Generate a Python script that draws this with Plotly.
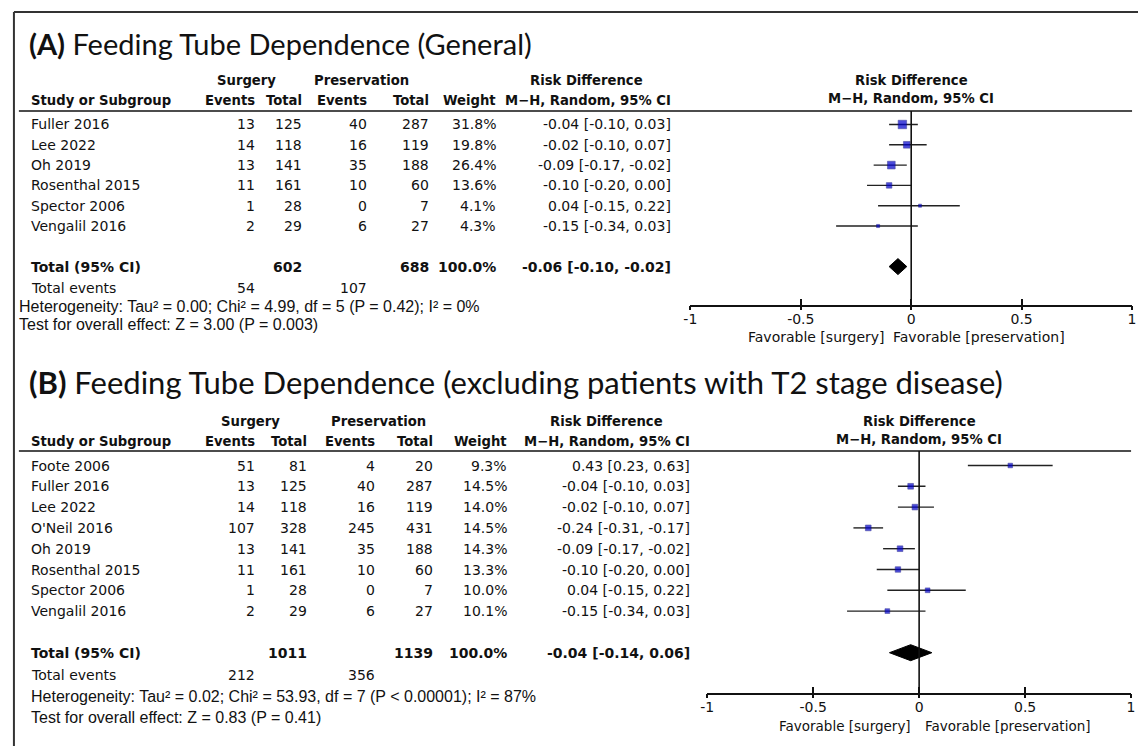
import math
import plotly.graph_objects as go

W, H = 1142, 746

# ---------------- data: panel A ----------------
studies_a = ["Fuller 2016", "Lee 2022", "Oh 2019", "Rosenthal 2015", "Spector 2006", "Vengalil 2016"]
surg_events_a = [13, 14, 13, 11, 1, 2]
surg_total_a = [125, 118, 141, 161, 28, 29]
pres_events_a = [40, 16, 35, 10, 0, 6]
pres_total_a = [287, 119, 188, 60, 7, 27]
weight_a = [31.8, 19.8, 26.4, 13.6, 4.1, 4.3]
rd_a = [-0.04, -0.02, -0.09, -0.10, 0.04, -0.15]
lo_a = [-0.10, -0.10, -0.17, -0.20, -0.15, -0.34]
hi_a = [0.03, 0.07, -0.02, 0.00, 0.22, 0.03]
total_a = {"surg_total": 602, "pres_total": 688, "weight": 100.0, "rd": -0.06, "lo": -0.10, "hi": -0.02,
           "surg_events": 54, "pres_events": 107}
het_a = "Heterogeneity: Tau² = 0.00; Chi² = 4.99, df = 5 (P = 0.42); I² = 0%"
test_a = "Test for overall effect: Z = 3.00 (P = 0.003)"
title_a = "<b>(A)</b> Feeding Tube Dependence (General)"

# ---------------- data: panel B ----------------
studies_b = ["Foote 2006", "Fuller 2016", "Lee 2022", "O'Neil 2016", "Oh 2019", "Rosenthal 2015",
             "Spector 2006", "Vengalil 2016"]
surg_events_b = [51, 13, 14, 107, 13, 11, 1, 2]
surg_total_b = [81, 125, 118, 328, 141, 161, 28, 29]
pres_events_b = [4, 40, 16, 245, 35, 10, 0, 6]
pres_total_b = [20, 287, 119, 431, 188, 60, 7, 27]
weight_b = [9.3, 14.5, 14.0, 14.5, 14.3, 13.3, 10.0, 10.1]
rd_b = [0.43, -0.04, -0.02, -0.24, -0.09, -0.10, 0.04, -0.15]
lo_b = [0.23, -0.10, -0.10, -0.31, -0.17, -0.20, -0.15, -0.34]
hi_b = [0.63, 0.03, 0.07, -0.17, -0.02, 0.00, 0.22, 0.03]
total_b = {"surg_total": 1011, "pres_total": 1139, "weight": 100.0, "rd": -0.04, "lo": -0.14, "hi": 0.06,
           "surg_events": 212, "pres_events": 356}
het_b = "Heterogeneity: Tau² = 0.02; Chi² = 53.93, df = 7 (P < 0.00001); I² = 87%"
test_b = "Test for overall effect: Z = 0.83 (P = 0.41)"
title_b = "<b>(B)</b> Feeding Tube Dependence (excluding patients with T2 stage disease)"

tick_vals = [-1, -0.5, 0, 0.5, 1]
tick_text = ["-1", "-0.5", "0", "0.5", "1"]
col_headers = ["Events", "Total", "Events", "Total", "Weight", "M−H, Random, 95% CI"]

BODY = "DejaVu Sans"
TITLE = "Lato"
FOOT = "Liberation Sans"
BLUE = "#0000cc"
INK = "#111111"
HDR = 13.2

fig = go.Figure()
annotations = []
shapes = []


def put(s, x, y, anchor="left", size=14, bold=False, family=BODY):
    if bold:
        s = "<b>" + s + "</b>"
    annotations.append(dict(text=s, x=x / W, y=1 - y / H, xref="paper", yref="paper",
                            xanchor=anchor, yanchor="middle", showarrow=False,
                            borderpad=0, borderwidth=0,
                            font=dict(family=family, size=size, color=INK)))


def ci_str(r, l, h):
    return f"{r:.2f} [{l:.2f}, {h:.2f}]"


def panel(cfg):
    L = cfg
    put(L["title"], 22, L["title_y"], size=L["title_size"], family=TITLE)
    put("Surgery", L["surg_c"], L["h1"], "center", size=HDR, bold=True)
    put("Preservation", L["pres_c"], L["h1"], "center", size=HDR, bold=True)
    put("Risk Difference", L["rdh_c"], L["h1"], "center", size=HDR, bold=True)
    put("Study or Subgroup", 24, L["h2"], size=HDR, bold=True)
    for txt, xr in zip(col_headers, L["cols"]):
        put(txt, xr, L["h2"], "right", size=HDR, bold=True)
    put("Risk Difference", L["zero_px"], L["h1"], "center", size=HDR, bold=True)
    put("M−H, Random, 95% CI", L["zero_px"], L["h2"] - 2, "center", size=HDR, bold=True)
    shapes.append(dict(type="line", xref="paper", yref="paper", x0=12 / W, x1=L["line_end"] / W,
                       y0=1 - L["hline"] / H, y1=1 - L["hline"] / H, line=dict(color=INK, width=1.5)))
    n = len(L["studies"])
    rowpx = lambda i: L["row0"] + L["dy"] * i
    for i in range(n):
        y = rowpx(i)
        vals = [L["se"][i], L["st"][i], L["pe"][i], L["pt"][i], f"{L['w'][i]:.1f}%",
                ci_str(L["rd"][i], L["lo"][i], L["hi"][i])]
        put(L["studies"][i], 24, y)
        for v, xr in zip(vals, L["cols"]):
            put(str(v), xr, y, "right")
    T = L["total"]
    yt = rowpx(n + 1)
    put("Total (95% CI)", 24, yt, bold=True)
    put(str(T["surg_total"]), L["cols"][1], yt, "right", bold=True)
    put(str(T["pres_total"]), L["cols"][3], yt, "right", bold=True)
    put(f"{T['weight']:.1f}%", L["cols"][4], yt, "right", bold=True)
    put(ci_str(T["rd"], T["lo"], T["hi"]), L["cols"][5], yt, "right", bold=True)
    put("Total events", 24, L["tev_y"])
    put(str(T["surg_events"]), L["cols"][0], L["tev_y"], "right")
    put(str(T["pres_events"]), L["cols"][2], L["tev_y"], "right")
    put(L["het"], L["foot_x"], L["het_y"], size=16, family=FOOT)
    put(L["test"], L["foot_x"], L["test_y"], size=16, family=FOOT)
    put("Favorable [surgery]", L["fav_l"], L["fav_y"], "right", size=L["fav_size"])
    put("Favorable [preservation]", L["fav_r"], L["fav_y"], "left", size=L["fav_size"])

    # ---- forest plot on real axes ----
    xa, ya = L["xa"], L["ya"]
    rows = list(range(n))
    sizes = [1.5 * math.sqrt(w) for w in L["w"]]
    fig.add_trace(go.Scatter(
        x=L["rd"], y=rows, mode="markers", xaxis=xa, yaxis=ya, showlegend=False, cliponaxis=False,
        marker=dict(symbol="square", size=sizes, color=BLUE, line=dict(width=0.6, color="#00007a")),
        error_x=dict(type="data", symmetric=False,
                     array=[h - r for h, r in zip(L["hi"], L["rd"])],
                     arrayminus=[r - l for r, l in zip(L["rd"], L["lo"])],
                     color="#222222", thickness=1.4, width=0)))
    hh = 8.0 / L["dy"]
    rt = n + 1
    fig.add_trace(go.Scatter(
        x=[T["lo"], T["rd"], T["hi"], T["rd"], T["lo"]], y=[rt, rt - hh, rt, rt + hh, rt],
        mode="lines", fill="toself", fillcolor="black", line=dict(color="black", width=1),
        xaxis=xa, yaxis=ya, showlegend=False, cliponaxis=False))
    for xo in L["xo"]:
        fig.add_trace(go.Scatter(x=[None], y=[None], xaxis=xo, yaxis=ya, showlegend=False))
    shapes.append(dict(type="line", xref=xa, yref=ya + " domain", x0=0, x1=0, y0=0, y1=1,
                       line=dict(color=INK, width=1.6)))
    top_i = (L["hline"] - L["row0"]) / L["dy"]
    bot_i = (L["axis_y"] - L["row0"]) / L["dy"]
    xk = "xaxis" + xa[1:]
    yk = "yaxis" + ya[1:]
    xo_in = "xaxis" + L["xo"][0][1:]
    xo_out = "xaxis" + L["xo"][1][1:]
    common = dict(range=[-1, 1], tickvals=tick_vals, showgrid=False, zeroline=False, fixedrange=True)
    fig.update_layout({
        xk: dict(domain=[L["x_m1"] / W, L["x_p1"] / W], anchor=ya, showline=True, linecolor=INK,
                 linewidth=1.6, ticks="", ticktext=tick_text,
                 tickfont=dict(family=BODY, size=14, color=INK), **common),
        xo_in: dict(overlaying=xa, anchor=ya, ticks="inside", ticklen=6, tickwidth=1.6, tickcolor=INK,
                    showline=False, showticklabels=False, **common),
        xo_out: dict(overlaying=xa, anchor=ya, ticks="outside", ticklen=4, tickwidth=1.6, tickcolor=INK,
                     showline=False, showticklabels=False, **common),
        yk: dict(domain=[1 - L["axis_y"] / H, 1 - L["hline"] / H], range=[bot_i, top_i],
                 visible=False, fixedrange=True),
    })


panel(dict(title=title_a, title_size=29, title_y=43, h1=81, h2=101, hline=111, row0=124.5, dy=20.3,
           surg_c=242, pres_c=358, rdh_c=585, cols=[250, 298, 363, 426, 494, 670],
           studies=studies_a, se=surg_events_a, st=surg_total_a, pe=pres_events_a, pt=pres_total_a,
           w=weight_a, rd=rd_a, lo=lo_a, hi=hi_a, total=total_a, het=het_a, test=test_a,
           tev_y=288, het_y=307, test_y=325, foot_x=12, fav_y=337, fav_l=887, fav_r=895, fav_size=14,
           zero_px=913, line_end=1136, axis_y=305, x_m1=690, x_p1=1136, xa="x", ya="y", xo=["x3", "x5"]))

panel(dict(title=title_b, title_size=31, title_y=382, h1=421, h2=442, hline=451, row0=465.5, dy=20.8,
           surg_c=246, pres_c=375, rdh_c=605, cols=[250, 303, 372, 430, 505, 690],
           studies=studies_b, se=surg_events_b, st=surg_total_b, pe=pres_events_b, pt=pres_total_b,
           w=weight_b, rd=rd_b, lo=lo_b, hi=hi_b, total=total_b, het=het_b, test=test_b,
           tev_y=675, het_y=696, test_y=717, foot_x=24, fav_y=726, fav_l=913, fav_r=927, fav_size=13.5,
           zero_px=921, line_end=1135, axis_y=693, x_m1=707, x_p1=1135, xa="x2", ya="y2", xo=["x4", "x6"]))

# outer frame (left and top edges visible)
shapes.append(dict(type="line", xref="paper", yref="paper", x0=7 / W, x1=7 / W, y0=0, y1=1 - 12 / H,
                   line=dict(color="#333333", width=2)))
shapes.append(dict(type="line", xref="paper", yref="paper", x0=7 / W, x1=1, y0=1 - 12 / H, y1=1 - 12 / H,
                   line=dict(color="#333333", width=2)))

fig.update_layout(width=W, height=H, margin=dict(l=0, r=0, t=0, b=0),
                  paper_bgcolor="white", plot_bgcolor="rgba(0,0,0,0)",
                  annotations=annotations, shapes=shapes, showlegend=False)
fig.write_html("out.html", config={"displayModeBar": False})
